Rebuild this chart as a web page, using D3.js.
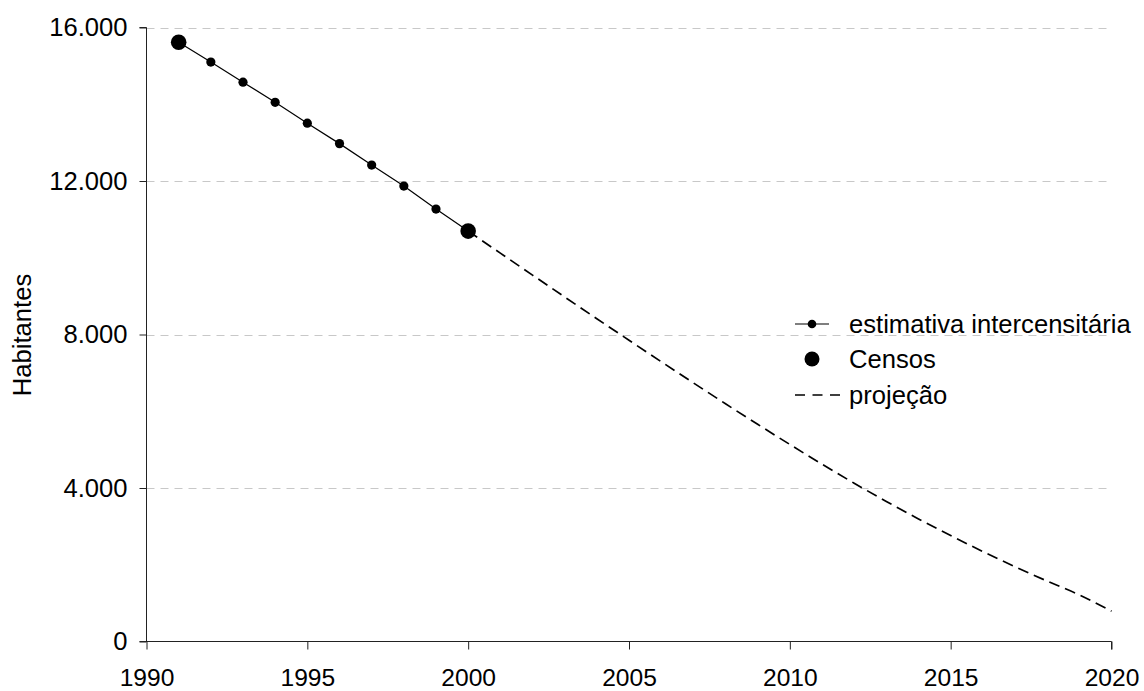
<!DOCTYPE html>
<html><head><meta charset="utf-8">
<script src="https://cdn.jsdelivr.net/npm/d3@7"></script>
<style>body{margin:0;background:#fff}svg{display:block;font-family:"Liberation Sans",Arial,sans-serif}</style>
</head><body><svg id="c" width="1144" height="691"></svg>
<script>
const estYears = [1991,1992,1993,1994,1995,1996,1997,1998,1999,2000];
const estValues = [15617,15100,14575,14050,13508,12974,12414,11867,11268,10695];
const censusYears = [1991,2000];
const censusValues = [15617,10695];
const projYears = [2000,2001,2002,2003,2004,2005,2006,2007,2008,2009,2010,2011,2012,2013,2014,2015,2016,2017,2018,2019,2020];
const projValues = [10695,10120,9548,8978,8412,7850,7292,6740,6195,5660,5135,4620,4125,3650,3195,2760,2345,1950,1575,1215,790];
const xTicks = [1990,1995,2000,2005,2010,2015,2020];
const yTicks = [0,4000,8000,12000,16000];
const yTickLabels = ["0","4.000","8.000","12.000","16.000"];
const legendLabels = ["estimativa intercensitária","Censos","projeção"];

const FS = 25.6;
const svg = d3.select("#c");
const L=146.5, R=1111.5, T=27.5, B=641.5;
const x = d3.scaleLinear().domain([1990,2020]).range([L,R]);
const y = d3.scaleLinear().domain([0,16000]).range([B,T]);

// grid
svg.append("g").selectAll("line").data(yTicks.filter(d=>d>0)).join("line")
  .attr("x1",L).attr("x2",R).attr("y1",d=>Math.round(y(d))+0.5).attr("y2",d=>Math.round(y(d))+0.5)
  .attr("stroke","#c8c8c8").attr("stroke-width",1).attr("stroke-dasharray","8,6");

// axes
const yAxis = d3.axisLeft(y).tickValues(yTicks).tickFormat((d,i)=>yTickLabels[i]).tickSize(7).tickPadding(12);
const gy = svg.append("g").attr("transform",`translate(${L},0)`).call(yAxis);
const xAxis = d3.axisBottom(x).tickValues(xTicks).tickFormat(d3.format("d")).tickSize(8);
const gx = svg.append("g").attr("transform",`translate(0,${B})`).call(xAxis);
[gx,gy].forEach(g=>{
  g.attr("font-size",FS).attr("font-family","Liberation Sans, Arial, sans-serif");
  g.select(".domain").attr("stroke","#222");
  g.selectAll(".tick line").attr("stroke","#222");
  g.selectAll("text").attr("fill","#000");
});
gx.attr("font-size",24.6);
gx.selectAll(".tick text").attr("y",44.5).attr("dy",null);
gy.select(".domain").attr("d",`M-7,${T}H0V${B}`);
gx.select(".domain").attr("d",`M${L-7},0H${R}V8`);

// y title
svg.append("text").attr("transform","translate(31,335) rotate(-90)").attr("text-anchor","middle")
  .attr("font-size",FS).text("Habitantes");

// projection
svg.append("path").datum(projYears.map((d,i)=>[d,projValues[i]]))
  .attr("d",d3.line().x(d=>x(d[0])).y(d=>y(d[1])).curve(d3.curveMonotoneX))
  .attr("fill","none").attr("stroke","#000").attr("stroke-width",1.7).attr("stroke-dasharray","11,6");

// estimate line
svg.append("path").datum(estYears.map((d,i)=>[d,estValues[i]]))
  .attr("d",d3.line().x(d=>x(d[0])).y(d=>y(d[1])))
  .attr("fill","none").attr("stroke","#000").attr("stroke-width",1.2);
svg.append("g").selectAll("circle").data(estYears).join("circle")
  .attr("cx",d=>x(d)).attr("cy",(d,i)=>y(estValues[i])).attr("r",4.6).attr("fill","#000");
svg.append("g").selectAll("circle").data(censusYears).join("circle")
  .attr("cx",d=>x(d)).attr("cy",(d,i)=>y(censusValues[i])).attr("r",7.8).attr("fill","#000");

// legend
const lg = svg.append("g");
const lx=795, ly=[324,359,395];
lg.append("line").attr("x1",lx).attr("x2",lx+34).attr("y1",ly[0]).attr("y2",ly[0]).attr("stroke","#000").attr("stroke-width",1.2);
lg.append("circle").attr("cx",lx+17).attr("cy",ly[0]).attr("r",4.3);
lg.append("circle").attr("cx",lx+17).attr("cy",ly[1]).attr("r",7.5);
lg.append("line").attr("x1",lx).attr("x2",lx+45).attr("y1",ly[2]).attr("y2",ly[2]).attr("stroke","#000").attr("stroke-width",1.7).attr("stroke-dasharray","10,7.5");
lg.selectAll("text").data(legendLabels).join("text")
  .attr("x",849).attr("y",(d,i)=>ly[i]+9).attr("font-size",FS).text(d=>d);
</script></body></html>
